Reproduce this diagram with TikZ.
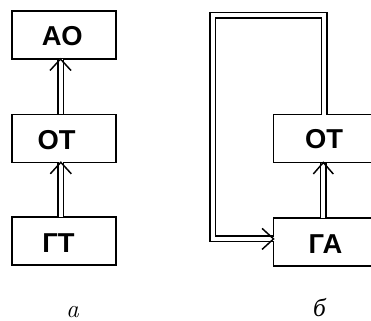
\documentclass[tikz,border=0pt]{standalone}
\usepackage{fontspec}
\usetikzlibrary{calc}
\newfontfamily\boxfont{Liberation Sans}[BoldFont={* Bold}]
\newfontfamily\cyrserif{Liberation Serif}
\begin{document}
\begin{tikzpicture}[x=0.75pt,y=-0.75pt,
  box/.style={draw, line width=1.2pt, minimum width=78.2pt, minimum height=36pt, inner sep=0pt, outer sep=0pt},
  lbl/.style={font=\boxfont\bfseries\fontsize{20.5}{22}\selectfont, inner sep=0pt},
  dbl/.style={draw, line width=1.1pt, double, double distance=3pt},
  chev/.style={draw, line width=1.1pt, line join=miter},
  captext/.style={inner sep=0pt, anchor=base, text depth=0pt, font=\fontsize{19}{20}\selectfont\itshape}]
\useasboundingbox (0,0) rectangle (371,321);
\begin{scope}
\clip (0,0) rectangle (371,321);
% left column
\node[box] (ao)  at (63.9,35)    {};
\node[box] (ot1) at (63.9,138.3) {};
\node[box] (gt)  at (63.9,240.9) {};
\node[lbl] (aot)  at (62.2,35.8)  {АО};
\node[lbl] (ot1t) at (56.7,139.7) {ОТ};
\node[lbl] (gtt)  at (58.5,243)   {ГТ};
% right column
\node[box] (ot2) at (325.7,138.5) {};
\node[box] (ga)  at (325.7,242)   {};
\node[lbl] (ot2t) at (324,138.7)  {ОТ};
\node[lbl] (gat)  at (325.5,243.9) {ГА};
% connectors left
\coordinate (t1) at ($(ao.south)+(-3.4,0)$);
\coordinate (t2) at ($(ot1.south)+(-3.1,0)$);
\draw[dbl] ($(ot1.north)+(-3.4,0)$) -- (t1);
\draw[chev] ($(t1)+(-10.5,11.5)$) -- (t1) -- ($(t1)+(10.5,11.5)$);
\draw[dbl] ($(gt.north)+(-3.1,0)$) -- (t2);
\draw[chev] ($(t2)+(-10.5,11.5)$) -- (t2) -- ($(t2)+(10.5,11.5)$);
% connectors right
\coordinate (t3) at ($(ot2.south)+(-2.4,0)$);
\draw[dbl] ($(ga.north)+(-2.4,0)$) -- (t3);
\draw[chev] ($(t3)+(-10,11.5)$) -- (t3) -- ($(t3)+(10,11.5)$);
\coordinate (ls) at ($(ot2.north)+(-1.3,0)$);
\coordinate (lt) at (212.8,15.5);
\coordinate (le) at ($(ga.west)+(0,-3.1)$);
\draw[dbl] (ls) |- (lt) |- (le);
\draw[chev] ($(le)+(-11.5,-10.5)$) -- (le) -- ($(le)+(-11.5,10.5)$);
\end{scope}
% captions
\node[captext] (ca) at (72.5,317) {a};
\node[captext] (cb) at (319.4,316.5) {\cyrserif б};
\end{tikzpicture}
\end{document}
